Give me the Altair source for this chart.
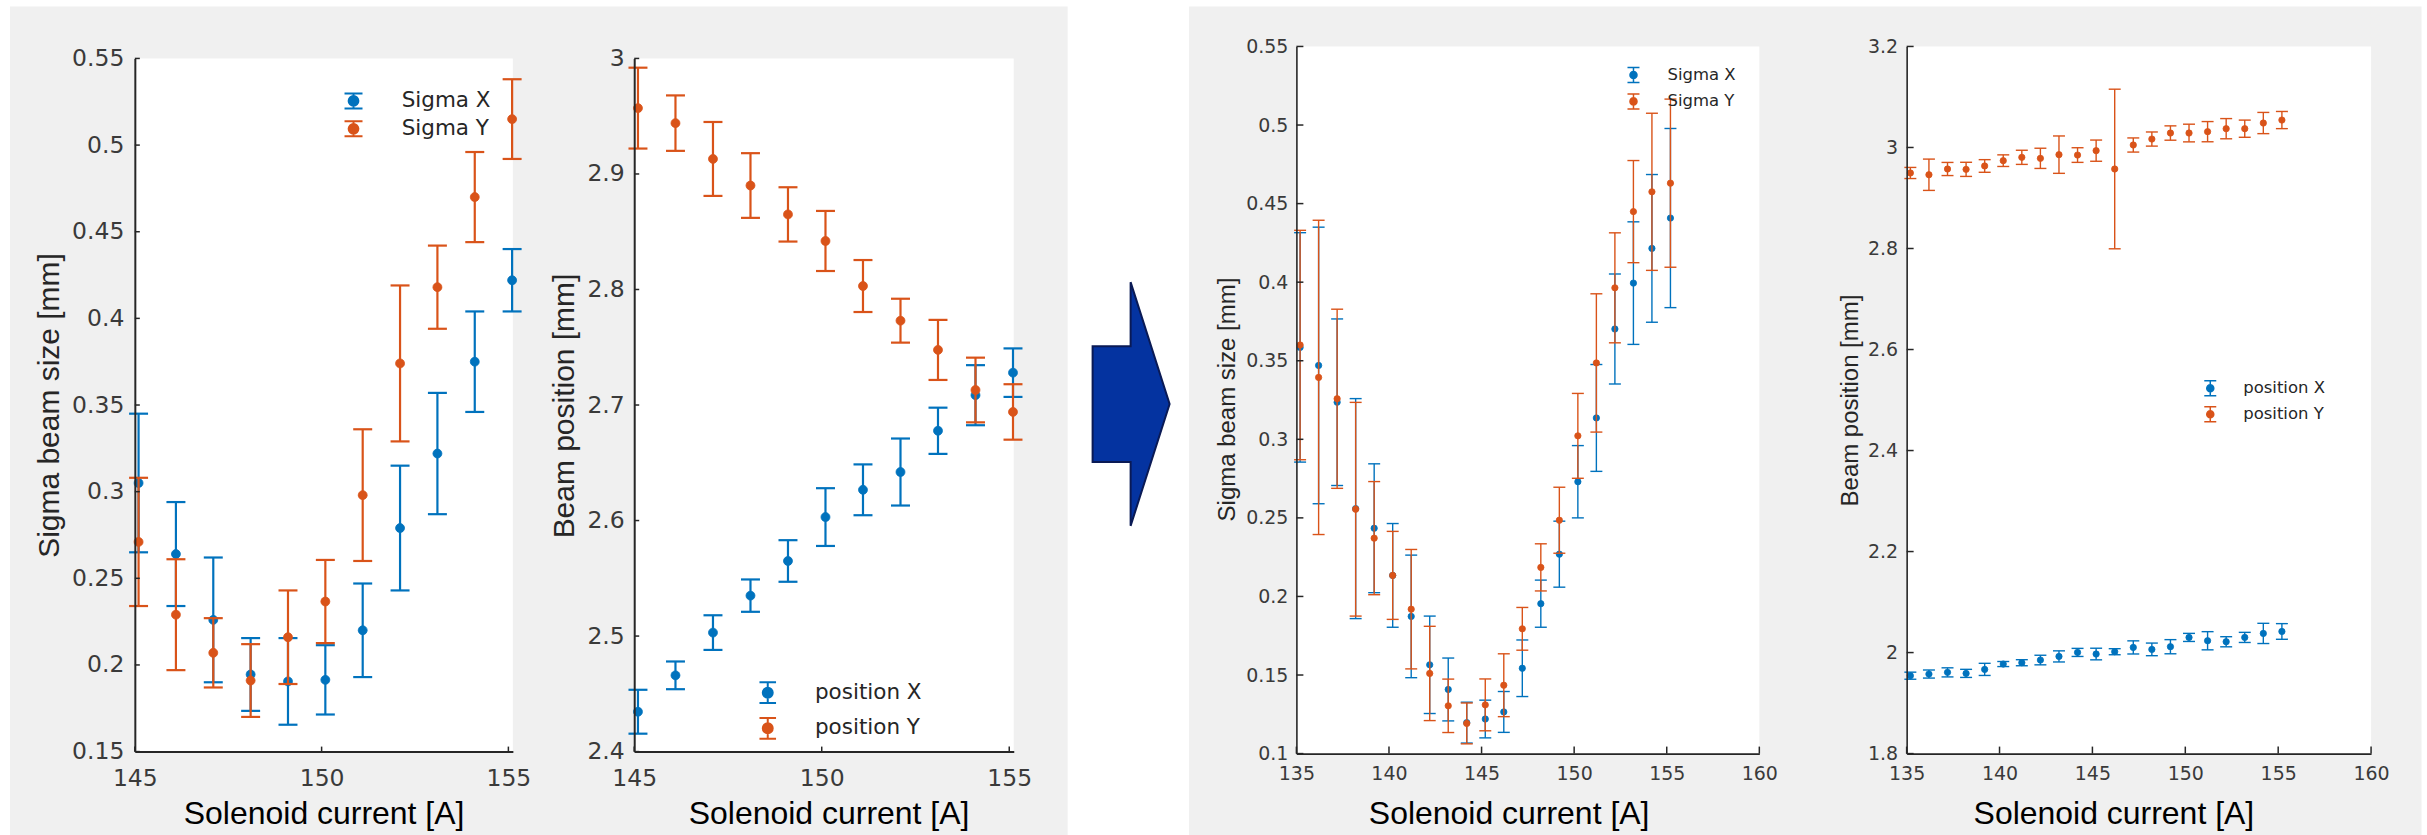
import altair as alt
import pandas as pd

# ---------------------------------------------------------------------------
# Solenoid scan, 145-155 A (left pair of panels)
# ---------------------------------------------------------------------------
current_fine = [145.1, 146.1, 147.1, 148.1, 149.1, 150.1, 151.1, 152.1, 153.1, 154.1, 155.1]

sigma_x_fine = [0.305, 0.264, 0.226, 0.1945, 0.1905, 0.1914, 0.220, 0.279, 0.322, 0.375, 0.422]
sigma_x_fine_err = [0.040, 0.030, 0.036, 0.021, 0.025, 0.020, 0.027, 0.036, 0.035, 0.029, 0.018]
sigma_y_fine = [0.271, 0.229, 0.207, 0.191, 0.216, 0.2366, 0.298, 0.374, 0.418, 0.470, 0.515]
sigma_y_fine_err = [0.037, 0.032, 0.020, 0.021, 0.027, 0.024, 0.038, 0.045, 0.024, 0.026, 0.023]

pos_x_fine = [2.4345, 2.466, 2.503, 2.535, 2.565, 2.603, 2.6266, 2.642, 2.6777, 2.7085, 2.728]
pos_x_fine_err = [0.019, 0.012, 0.015, 0.014, 0.018, 0.025, 0.022, 0.029, 0.020, 0.026, 0.021]
pos_y_fine = [2.957, 2.944, 2.913, 2.890, 2.865, 2.842, 2.803, 2.773, 2.7477, 2.713, 2.694]
pos_y_fine_err = [0.035, 0.024, 0.032, 0.028, 0.0235, 0.026, 0.0225, 0.019, 0.026, 0.028, 0.024]

# ---------------------------------------------------------------------------
# Solenoid scan, 135-155 A (right pair of panels)
# ---------------------------------------------------------------------------
current_wide = [135.2, 136.2, 137.2, 138.2, 139.2, 140.2, 141.2, 142.2, 143.2, 144.2, 145.2,
                146.2, 147.2, 148.2, 149.2, 150.2, 151.2, 152.2, 153.2, 154.2, 155.2]

sigma_x_wide = [0.3585, 0.347, 0.3236, 0.2559, 0.2434, 0.2134, 0.1873, 0.1565, 0.1408, 0.1197, 0.122,
                0.1265, 0.1543, 0.1954, 0.2269, 0.273, 0.3136, 0.3702, 0.3994, 0.4215, 0.4408]
sigma_x_wide_err = [0.073, 0.088, 0.053, 0.070, 0.041, 0.033, 0.039, 0.031, 0.020, 0.013, 0.012,
                    0.013, 0.018, 0.015, 0.021, 0.023, 0.034, 0.035, 0.039, 0.047, 0.057]
sigma_y_wide = [0.360, 0.3394, 0.3258, 0.2555, 0.2371, 0.2134, 0.1919, 0.151, 0.1304, 0.1192, 0.131,
                0.1435, 0.1794, 0.2185, 0.2485, 0.3022, 0.3486, 0.3964, 0.4449, 0.4575, 0.463]
sigma_y_wide_err = [0.073, 0.100, 0.057, 0.068, 0.036, 0.028, 0.038, 0.030, 0.017, 0.013, 0.0165,
                    0.020, 0.0136, 0.015, 0.021, 0.027, 0.044, 0.035, 0.0325, 0.050, 0.0535]

pos_x_wide = [1.9542, 1.9575, 1.9608, 1.9588, 1.9667, 1.9773, 1.9799, 1.9852, 1.9924, 2.0003, 1.9971,
              2.0017, 2.0102, 2.0063, 2.0116, 2.030, 2.0234, 2.0214, 2.030, 2.0379, 2.0418]
pos_x_wide_err = [0.007, 0.008, 0.009, 0.008, 0.012, 0.005, 0.006, 0.0095, 0.011, 0.008, 0.0115,
                  0.006, 0.013, 0.0125, 0.014, 0.008, 0.018, 0.010, 0.010, 0.020, 0.0155]
pos_y_wide = [2.9495, 2.946, 2.9574, 2.9567, 2.9634, 2.9739, 2.9805, 2.9785, 2.9858, 2.985, 2.9937,
              2.9574, 3.0049, 3.0167, 3.0286, 3.0286, 3.0313, 3.0372, 3.0372, 3.0484, 3.0543]
pos_y_wide_err = [0.011, 0.031, 0.013, 0.014, 0.0125, 0.0115, 0.014, 0.020, 0.037, 0.0145, 0.021,
                  0.158, 0.014, 0.014, 0.0142, 0.0175, 0.020, 0.020, 0.017, 0.021, 0.017]

# Axis ticks
x_ticks_fine = [145, 150, 155]
x_ticks_wide = [135, 140, 145, 150, 155, 160]
y_ticks_sigma_fine = [0.15, 0.2, 0.25, 0.3, 0.35, 0.4, 0.45, 0.5, 0.55]
y_ticks_pos_fine = [2.4, 2.5, 2.6, 2.7, 2.8, 2.9, 3.0]
y_ticks_sigma_wide = [0.1, 0.15, 0.2, 0.25, 0.3, 0.35, 0.4, 0.45, 0.5, 0.55]
y_ticks_pos_wide = [1.8, 2.0, 2.2, 2.4, 2.6, 2.8, 3.0, 3.2]

sigma_names = ["Sigma X", "Sigma Y"]
pos_names = ["position X", "position Y"]

BLUE = "#0072BD"
ORANGE = "#D95319"
FIG_GRAY = "#f0f0f0"
INK = "#262626"
LABEL_INK = "#3a3a3a"


def glyph(cap, r):
    """Error-bar legend glyph: two caps, a stem and a filled dot (unit box)."""
    return (f"M{-cap},-1 L{cap},-1 M0,-1 L0,1 M{-cap},1 L{cap},1 "
            f"M{r},0 A{r},{r} 0 1,1 {-r},0 A{r},{r} 0 1,1 {r},0 Z")


# Block arrow between the two figure groups (unit box, scaled by size)
ARROW = "M-0.316,-0.475 L-0.004,-0.475 L-0.004,-1 L0.316,0 L-0.004,1 L-0.004,0.475 L-0.316,0.475 Z"


def one_row():
    return alt.Data(values=[{}])


def panel(xs, series, names, ytitle, xticks, yticks, yfmt, s):
    W, H, top = s["w"], s["h"], s["top"]
    xscale = alt.Scale(domain=s["xdom"], nice=False, zero=False)
    yscale = alt.Scale(domain=s["ydom"], range=[H, top], nice=False, zero=False)

    xaxis = alt.Axis(
        values=xticks, format="d", title="Solenoid current [A]",
        titleX=s["xt_x"], titleY=s["xt_y"], titleAlign="center", titleBaseline="alphabetic",
        titleFont="Liberation Sans", titleFontSize=32, titleFontWeight="normal", titleColor="#000000",
        labelFont="DejaVu Sans", labelFontSize=s["lab_fs"], labelColor=LABEL_INK,
        labelPadding=s["xl_pad"], labelFlush=False, labelOverlap=False,
        ticks=False, tickSize=0, grid=False,
        domainColor=INK, domainWidth=s["axis_w"], zindex=1,
    )
    yaxis = alt.Axis(
        values=yticks, format=yfmt, title=ytitle,
        titleX=s["yt_x"], titleY=s["yt_y"], titleAngle=270, titleAlign="center",
        titleBaseline="middle", titleFont="Liberation Sans", titleFontSize=s["yt_fs"],
        titleFontWeight="normal", titleColor=INK,
        labelFont="DejaVu Sans", labelFontSize=s["lab_fs"], labelColor=LABEL_INK,
        labelPadding=s["yl_pad"], labelFlush=False, labelOverlap=False,
        ticks=False, tickSize=0, grid=False,
        domainColor=INK, domainWidth=s["axis_w"], zindex=1,
    )
    legend = alt.Legend(
        orient="none", legendX=s["lg_x"], legendY=s["lg_y"], title=None, padding=0,
        symbolType=glyph(s["lg_cap"], s["lg_r"]), symbolSize=s["lg_size"],
        symbolStrokeWidth=s["lg_sw"], symbolOpacity=1, symbolOffset=0,
        labelFont="DejaVu Sans", labelFontSize=s["lg_fs"], labelColor=INK,
        labelOffset=s["lg_off"], rowPadding=s["lg_row"],
    )
    cscale = alt.Scale(domain=names, range=[BLUE, ORANGE])

    layers = []
    if "backdrop" in s:
        bx0, bx1, by0, by1 = s["backdrop"]
        layers.append(alt.Chart(one_row()).mark_rect(color=FIG_GRAY).encode(
            x=alt.value(bx0), x2=alt.value(bx1), y=alt.value(by0), y2=alt.value(by1)))
    # white axes area
    layers.append(alt.Chart(one_row()).mark_rect(color="white").encode(
        x=alt.value(0), x2=alt.value(W), y=alt.value(top), y2=alt.value(H)))

    lw, cw = s["bar_w"], s["cap"]
    for (ys, errs), name in zip(series, names):
        df = pd.DataFrame({
            "current": xs,
            "value": ys,
            "lo": [v - e for v, e in zip(ys, errs)],
            "hi": [v + e for v, e in zip(ys, errs)],
            "series": name,
        })
        base = alt.Chart(df)
        x = alt.X("current:Q", scale=xscale, axis=xaxis)
        stroke = alt.Stroke("series:N", scale=cscale, legend=legend)
        fill = alt.Fill("series:N", scale=cscale, legend=legend)
        stem = base.mark_rule(strokeWidth=lw).encode(
            x=x, y=alt.Y("lo:Q", scale=yscale, axis=yaxis), y2="hi:Q", stroke=stroke)
        cap_lo = base.mark_rule(strokeWidth=lw, xOffset=-cw, x2Offset=cw).encode(
            x=x, x2="current:Q", y=alt.Y("lo:Q", scale=yscale, axis=yaxis), stroke=stroke)
        cap_hi = base.mark_rule(strokeWidth=lw, xOffset=-cw, x2Offset=cw).encode(
            x=x, x2="current:Q", y=alt.Y("hi:Q", scale=yscale, axis=yaxis), stroke=stroke)
        dot = base.mark_point(filled=True, size=s["pt"], opacity=1, strokeWidth=0.8).encode(
            x=x, y=alt.Y("value:Q", scale=yscale, axis=yaxis), fill=fill, stroke=stroke)
        layers += [stem, cap_lo, cap_hi, dot]

    # inward-pointing tick marks
    tl = s["tick_len"]
    layers.append(alt.Chart(pd.DataFrame({"t": yticks})).mark_rule(color=INK, strokeWidth=1.5).encode(
        y=alt.Y("t:Q", scale=yscale, axis=yaxis), x=alt.value(0), x2=alt.value(tl)))
    layers.append(alt.Chart(pd.DataFrame({"t": xticks})).mark_rule(color=INK, strokeWidth=1.5).encode(
        x=alt.X("t:Q", scale=xscale, axis=xaxis), y=alt.value(H), y2=alt.value(H - tl)))

    return alt.layer(*layers).properties(width=W, height=H)


def spacer(w):
    return alt.Chart(one_row()).mark_point(opacity=0).encode(
        x=alt.value(0), y=alt.value(0)).properties(width=w, height=706)


fine_common = dict(top=12, h=706, xdom=[145, 155.12], lab_fs=23.5, xl_pad=14.6, yt_fs=30,
                   axis_w=2, bar_w=2.2, cap=9.5, pt=80, tick_len=5, xt_y=72, lg_fs=21.5, lg_sw=2)
wide_common = dict(top=0, h=708, xdom=[135, 160], lab_fs=19, xl_pad=10.8, yt_fs=24,
                   axis_w=1.6, bar_w=1.4, cap=6, pt=40, tick_len=7, xt_y=70, lg_fs=16.5, lg_sw=1.5,
                   lg_cap=0.8, lg_r=0.47, lg_size=225)

p1 = panel(current_fine, [(sigma_x_fine, sigma_x_fine_err), (sigma_y_fine, sigma_y_fine_err)],
           sigma_names, "Sigma beam size [mm]", x_ticks_fine, y_ticks_sigma_fine, ".2~f",
           dict(fine_common, w=378.5, ydom=[0.15, 0.55], yl_pad=11, yt_x=-85, yt_y=359, xt_x=189,
                backdrop=(-125, 934, -40, 790),
                lg_x=208.2, lg_y=43.75, lg_cap=1.2, lg_r=0.65, lg_size=225, lg_off=37.5, lg_row=4))

p2 = panel(current_fine, [(pos_x_fine, pos_x_fine_err), (pos_y_fine, pos_y_fine_err)],
           pos_names, "Beam position [mm]", x_ticks_fine, y_ticks_pos_fine, ".1~f",
           dict(fine_common, w=380, ydom=[2.4, 3.0], yl_pad=10, yt_x=-69.5, yt_y=359.5, xt_x=194.6,
                lg_x=122.2, lg_y=635.5, lg_cap=0.8, lg_r=0.48, lg_size=430, lg_off=35.8, lg_row=6.7))

arrow = alt.Chart(one_row()).mark_point(
    shape=ARROW, size=59536, filled=True, fill="#0433a0", stroke="#0a1a55",
    strokeWidth=2, opacity=1,
).encode(x=alt.value(62.5), y=alt.value(358)).properties(width=120, height=708)

p3 = panel(current_wide, [(sigma_x_wide, sigma_x_wide_err), (sigma_y_wide, sigma_y_wide_err)],
           sigma_names, "Sigma beam size [mm]", x_ticks_wide, y_ticks_sigma_wide, ".2~f",
           dict(wide_common, w=463.5, ydom=[0.1, 0.55], yl_pad=8.5, yt_x=-68.5, yt_y=353, xt_x=212.5,
                backdrop=(-107.5, 1126.5, -40, 790),
                lg_x=329, lg_y=20, lg_off=25.5, lg_row=5.5))

p4 = panel(current_wide, [(pos_x_wide, pos_x_wide_err), (pos_y_wide, pos_y_wide_err)],
           pos_names, "Beam position [mm]", x_ticks_wide, y_ticks_pos_wide, ".1~f",
           dict(wide_common, w=465, ydom=[1.8, 3.2], yl_pad=9, yt_x=-56.5, yt_y=354, xt_x=207,
                lg_x=295.5, lg_y=333.8, lg_off=24.5, lg_row=5))

chart = alt.hconcat(
    p1, spacer(120.5), p2, spacer(55), arrow, spacer(107.5), p3, spacer(147), p4,
    spacing=0, bounds="flush",
).resolve_scale(
    fill="independent", stroke="independent"
).resolve_legend(
    fill="independent", stroke="independent"
).properties(
    padding={"left": 9, "top": 5, "right": 5, "bottom": 0},
    background="white",
).configure_view(
    stroke="transparent"
)

chart.save("out.html", embed_options={"renderer": "svg", "actions": False})
